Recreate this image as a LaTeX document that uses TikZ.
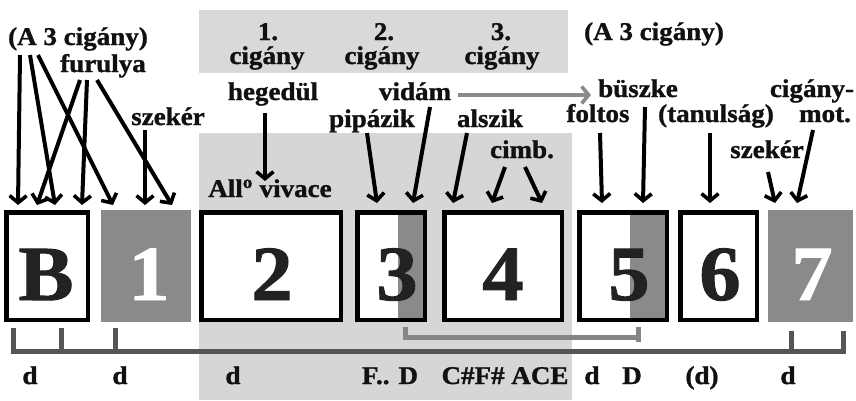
\documentclass[tikz,border=0pt]{standalone}
\usepackage{fontspec}
\setmainfont{Liberation Serif}[FakeStretch=1.06, BoldFeatures={FakeBold=1.2}]
\usetikzlibrary{arrows.meta,calc}
\definecolor{bglow}{HTML}{D6D6D6}
\definecolor{bgtop}{HTML}{D9D9D9}
\definecolor{gbox}{HTML}{8A8A8A}
\definecolor{brkA}{HTML}{555555}
\definecolor{brkB}{HTML}{858585}
\definecolor{ink}{HTML}{111111}
\definecolor{dink}{HTML}{222222}
\begin{document}
\begin{tikzpicture}[x=1pt,y=-1pt,
  lbl/.style={font=\bfseries\fontsize{25.5}{21}\selectfont, inner sep=0pt, anchor=base, text=ink},
  dig/.style={font=\bfseries\fontsize{78}{78}\selectfont, inner sep=0pt, anchor=base, text=dink},
  wdig/.style={dig, text=white},
  wbox/.style={fill=white, draw=black, line width=4.5pt, inner sep=0pt, outer sep=0pt, minimum height=107.5pt},
  gboxs/.style={fill=gbox, draw=none, inner sep=0pt, outer sep=0pt, minimum height=112pt},
  arr/.style={line width=4pt, draw=black, -{Straight Barb[length=7pt,width=17pt,line width=3.6pt]}},
  garr/.style={arr, draw=gbox, -{Straight Barb[length=7pt,width=17pt,line width=3.6pt]}},
  brk/.style={draw=brkA, line width=5pt},
  brkb/.style={draw=brkB, line width=5pt}
]
\useasboundingbox (0,0) rectangle (856,400);
\fill[white] (0,0) rectangle (856,400);
% background panels
\fill[bgtop] (199,10) rectangle (568,73);
\fill[bglow] (199,133) rectangle (572,400);

% boxes
\node[wbox, minimum width=81.5pt] (bB) at (47,266) {};
\node[gboxs, minimum width=90pt] (b1) at (146,266) {};
\node[wbox, minimum width=139.5pt] (b2) at (271,266) {};
\node[wbox, minimum width=67.5pt] (b3) at (391,266) {};
\fill[gbox] ($(b3.north east)+(-27,0)$) rectangle (b3.south east);
\draw[black, line width=4.5pt] (b3.north west) rectangle (b3.south east);
\node[wbox, minimum width=117.5pt] (b4) at (503,266) {};
\node[wbox, minimum width=87.5pt] (b5) at (623,266) {};
\fill[gbox] ($(b5.north east)+(-37,0)$) rectangle (b5.south east);
\draw[black, line width=4.5pt] (b5.north west) rectangle (b5.south east);
\node[wbox, minimum width=76.5pt] (b6) at (718.5,266) {};
\node[gboxs, minimum width=85pt] (b7) at (810.5,266) {};

% digits
\node[dig] (dB) at (46,300) {B};
\node[wdig] (d1) at (149,300) {1};
\node[dig] (d2) at (272,300) {2};
\node[dig] (d3) at (397,300) {3};
\node[dig] (d4) at (503,300) {4};
\node[dig] (d5) at (629,300) {5};
\node[dig] (d6) at (720,300) {6};
\node[wdig] (d7) at (812,300) {7};

% top labels
\node[lbl] (a3cL) at (78,45) {(A 3 cigány)};
\node[lbl] (fur) at (103,72) {furulya};
\node[lbl] (szL) at (168,125) {szekér};
\node[lbl] (n1) at (268,40) {1.};
\node[lbl] (c1) at (267,64) {cigány};
\node[lbl] (n2) at (384,40) {2.};
\node[lbl] (c2) at (382,64) {cigány};
\node[lbl] (n3) at (501,40) {3.};
\node[lbl] (c3) at (502,64) {cigány};
\node[lbl] (heg) at (273,100) {hegedül};
\node[lbl] (vid) at (415,100) {vidám};
\node[lbl] (pip) at (372,127) {pipázik};
\node[lbl] (als) at (490,127) {alszik};
\node[lbl] (cimb) at (522,158) {cimb.};
\node[lbl] (allo) at (270,197) {All\textsuperscript{o} vivace};
\node[lbl] (a3cR) at (654,40) {(A 3 cigány)};
\node[lbl] (busz) at (638,97) {büszke};
\node[lbl] (folt) at (598,122) {foltos};
\node[lbl] (tan) at (716,122) {(tanulság)};
\node[lbl] (cigm) at (812,97) {cigány-};
\node[lbl] (mot) at (825,122) {mot.};
\node[lbl] (szR) at (767,158) {szekér};

% bottom labels
\node[lbl] (k1) at (30,384) {d};
\node[lbl] (k2) at (120,384) {d};
\node[lbl] (k3) at (233,384) {d};
\node[lbl] (k4) at (390,384) {F.. D};
\node[lbl] (k5) at (505,384) {C\#F\# ACE};
\node[lbl] (k6) at (592,384) {d};
\node[lbl] (k7) at (632,384) {D};
\node[lbl] (k8) at (702,384) {(d)};
\node[lbl] (k9) at (788,384) {d};

% arrow end points
\coordinate (s1) at (20,55);  \coordinate (t1) at (18,205);
\coordinate (s2) at (30,55);  \coordinate (t2) at (55,205);
\coordinate (s3) at (38,55);  \coordinate (t3) at (113,205);
\coordinate (s4) at (80,80);  \coordinate (t4) at (37,205);
\coordinate (s5) at (87,80);  \coordinate (t5) at (82,205);
\coordinate (s6) at (97,80);  \coordinate (t6) at (172,205);
\coordinate (s7) at (145,130); \coordinate (t7) at (145,205);
\coordinate (s8) at (265,113); \coordinate (t8) at (265,181);
\coordinate (s9) at (367,133); \coordinate (t9) at (377,203);
\coordinate (s10) at (430,107); \coordinate (t10) at (413,203);
\coordinate (s11) at (467,133); \coordinate (t11) at (453,203);
\coordinate (s12) at (505,167); \coordinate (t12) at (492,203);
\coordinate (s13) at (525,167); \coordinate (t13) at (542,203);
\coordinate (s14) at (600,133); \coordinate (t14) at (602,203);
\coordinate (s15) at (645,107); \coordinate (t15) at (643,203);
\coordinate (s16) at (710,133); \coordinate (t16) at (710,203);
\coordinate (s17) at (768,172); \coordinate (t17) at (775,203);
\coordinate (s18) at (813,130); \coordinate (t18) at (797,203);
\coordinate (g1) at (458,95); \coordinate (g2) at (591,95);

\foreach \i in {1,...,18} {\draw[arr] (s\i) -- (t\i);}
\draw[garr] (g1) -- (g2);

% brackets
\draw[brk] (13,328) -- (13,351) -- (843,351) -- (843,331);
\draw[brk] (61,328) -- (61,351);
\draw[brk] (115,328) -- (115,351);
\draw[brk] (791,331) -- (791,351);
\draw[brkb] (405,327) -- (405,337) -- (638,337);
\draw[brkb] (638,327) -- (638,342);
\end{tikzpicture}
\end{document}
